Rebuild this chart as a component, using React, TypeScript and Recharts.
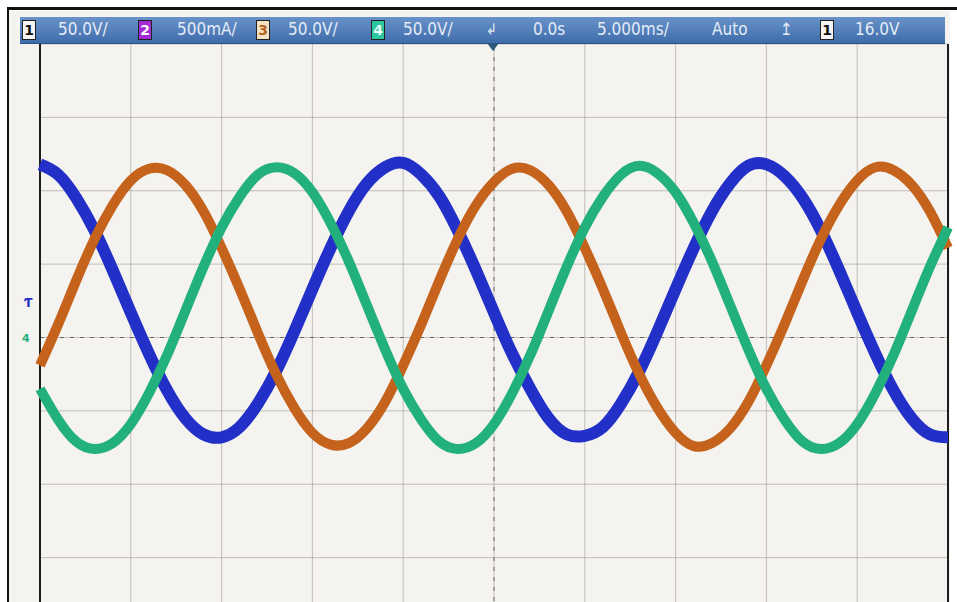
import React from 'react';
import { LineChart, Line, XAxis, YAxis, CartesianGrid, ReferenceLine } from 'recharts';

// time base 5 ms/div, 10 divisions on screen
const timeMs = [
  -25, -24, -23, -22, -21, -20, -19, -18, -17, -16, -15, -14, -13, -12, -11, -10, -9, -8, -7, -6,
  -5, -4, -3, -2, -1, 0, 1, 2, 3, 4, 5, 6, 7, 8, 9, 10, 11, 12, 13, 14,
  15, 16, 17, 18, 19, 20, 21, 22, 23, 24, 25,
];

// channel 1 (blue), volts
const ch1 = [
  118, 111, 95, 73, 46, 17, -11, -36, -55, -66, -68, -61, -45, -23, 4, 33, 61, 86, 105, 116,
  119, 111, 96, 73, 46, 17, -11, -35, -55, -66, -67, -61, -45, -23, 4, 33, 61, 86, 105, 117,
  118, 110, 95, 73, 46, 17, -11, -36, -55, -66, -68,
];

// channel 3 (orange), volts
const ch3 = [
  -19, 9, 39, 67, 90, 107, 115, 114, 104, 86, 61, 33, 3, -25, -48, -65, -73, -72, -62, -44,
  -19, 9, 39, 67, 90, 106, 115, 114, 104, 86, 61, 33, 3, -25, -48, -65, -74, -72, -62, -44,
  -19, 9, 39, 67, 90, 107, 116, 114, 104, 86, 61,
];

// channel 4 (green), volts
const ch4 = [
  -35, -56, -71, -76, -72, -59, -38, -12, 18, 48, 75, 96, 111, 116, 112, 99, 78, 52, 22, -8,
  -35, -56, -71, -76, -72, -59, -38, -12, 18, 48, 75, 96, 111, 117, 112, 99, 78, 52, 22, -8,
  -35, -56, -71, -76, -72, -59, -38, -12, 18, 48, 75,
];

const xTicks = [-25, -20, -15, -10, -5, 0, 5, 10, 15, 20, 25];
const yTicks = [-200, -150, -100, -50, 0, 50, 100, 150, 200];

const data = timeMs.map((t, i) => ({ t, ch1: ch1[i], ch3: ch3[i], ch4: ch4[i] }));

const barText: React.CSSProperties = {
  position: 'absolute',
  top: 2,
  fontFamily: '"DejaVu Sans Condensed", "Liberation Sans Narrow", "DejaVu Sans", sans-serif',
  fontSize: 17,
  color: '#e4ecf6',
  whiteSpace: 'nowrap',
  lineHeight: '20px',
};

const chanBox = (left: number, bg: string, fg: string, label: string) => (
  <div
    style={{
      position: 'absolute',
      left,
      top: 3,
      width: 12,
      height: 18,
      background: bg,
      color: fg,
      fontFamily: '"DejaVu Sans", sans-serif',
      fontWeight: 'bold',
      fontSize: 14,
      lineHeight: '18px',
      textAlign: 'center',
      border: '1px solid #222',
    }}
  >
    {label}
  </div>
);

const App = () => {
  return (
    <div style={{ position: 'fixed', left: 0, top: 0, width: 957, height: 602, overflow: 'hidden', background: '#ffffff' }}>
      <div style={{ position: 'absolute', left: 8, top: 11, width: 942, height: 600, background: '#f4f3ef' }} />
      <div style={{ position: 'absolute', left: 0, top: 0 }}>
        <LineChart width={957} height={640} data={data} margin={{ top: 44, right: 9, bottom: 9, left: 40 }}>
          <CartesianGrid stroke="#8f8b84" strokeOpacity={0.5} />
          <XAxis dataKey="t" type="number" domain={[-25, 25]} ticks={xTicks} hide />
          <YAxis type="number" domain={[-200, 200]} ticks={yTicks} hide />
          <ReferenceLine x={0} stroke="#6a6762" strokeDasharray="4 6" />
          <ReferenceLine y={0} stroke="#6a6762" strokeDasharray="4 6" />
          <ReferenceLine x={-25} stroke="#1e1e1e" strokeWidth={2} />
          <ReferenceLine x={25} stroke="#1e1e1e" strokeWidth={2} />
          <Line type="natural" dataKey="ch1" stroke="#2230c8" strokeWidth={12} dot={false} isAnimationActive={false} />
          <Line type="natural" dataKey="ch3" stroke="#c5621c" strokeWidth={10} dot={false} isAnimationActive={false} />
          <Line type="natural" dataKey="ch4" stroke="#22b07c" strokeWidth={10} dot={false} isAnimationActive={false} />
        </LineChart>
      </div>

      {/* outer frame */}
      <div style={{ position: 'absolute', left: 7, top: 7, width: 950, height: 3, background: '#111' }} />
      <div style={{ position: 'absolute', left: 7, top: 10, width: 2, height: 592, background: '#111' }} />

      {/* scope status bar */}
      <div
        style={{
          position: 'absolute',
          left: 20,
          top: 17,
          width: 925,
          height: 26,
          background: 'linear-gradient(#6892c9, #3f6cab)',
          borderBottom: '1px solid #2c4f86',
        }}
      >
        {chanBox(2, '#f4f4f4', '#111', '1')}
        <span style={{ ...barText, left: 38 }}>50.0V/</span>
        {chanBox(118, '#a32bd6', '#fff', '2')}
        <span style={{ ...barText, left: 157 }}>500mA/</span>
        {chanBox(236, '#f2e3c4', '#b5651d', '3')}
        <span style={{ ...barText, left: 268 }}>50.0V/</span>
        {chanBox(351, '#2cc79e', '#e8fff8', '4')}
        <span style={{ ...barText, left: 383 }}>50.0V/</span>
        <span style={{ ...barText, left: 466, fontSize: 15 }}>↲</span>
        <span style={{ ...barText, left: 513 }}>0.0s</span>
        <span style={{ ...barText, left: 577 }}>5.000ms/</span>
        <span style={{ ...barText, left: 692 }}>Auto</span>
        <span style={{ ...barText, left: 760 }}>↥</span>
        {chanBox(800, '#f4f4f4', '#111', '1')}
        <span style={{ ...barText, left: 835 }}>16.0V</span>
      </div>

      {/* trigger position marker */}
      <div
        style={{
          position: 'absolute',
          left: 487,
          top: 43,
          width: 0,
          height: 0,
          borderLeft: '6px solid transparent',
          borderRight: '6px solid transparent',
          borderTop: '8px solid #2b5a7a',
        }}
      />

      {/* channel ground markers */}
      <div style={{ position: 'absolute', left: 24, top: 296, color: '#2230c8', fontFamily: '"DejaVu Sans", sans-serif', fontSize: 12, fontWeight: 'bold' }}>Ƭ</div>
      <div style={{ position: 'absolute', left: 22, top: 332, color: '#22b07c', fontFamily: '"DejaVu Sans", sans-serif', fontSize: 11, fontWeight: 'bold' }}>4</div>
    </div>
  );
};

export default App;
